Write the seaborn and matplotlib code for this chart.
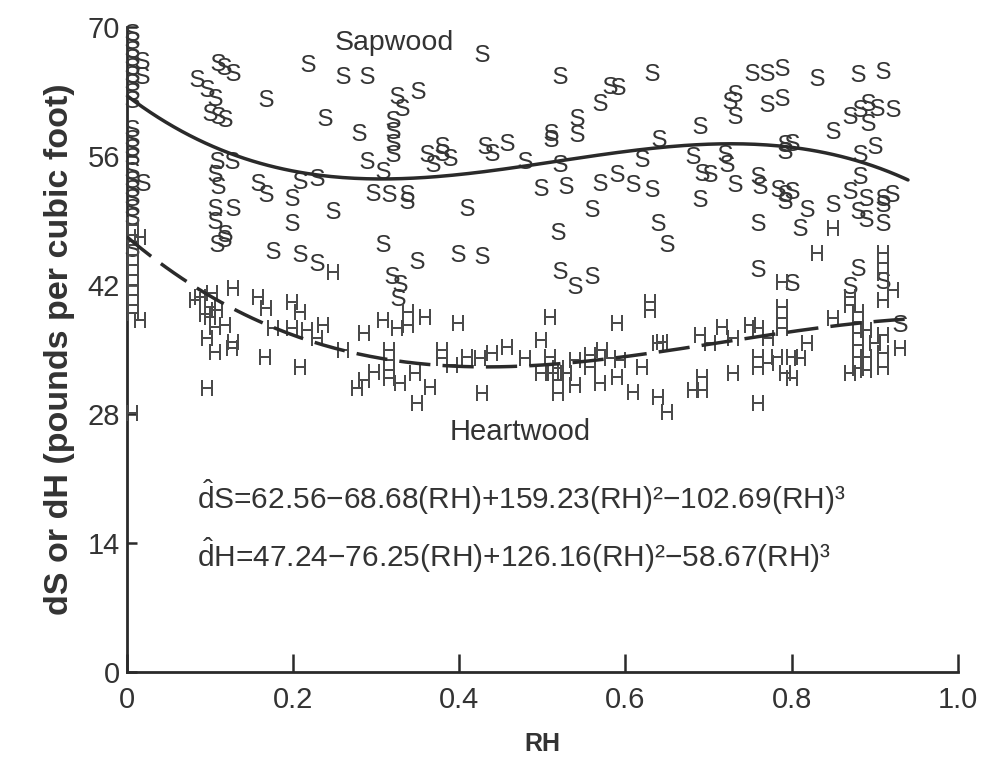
import numpy as np
import pandas as pd
import matplotlib
matplotlib.use("Agg")
import matplotlib.pyplot as plt
import seaborn as sns

# ---------------- data ----------------
# Sapwood observations (RH, dS)
sap_rh = [0.006]*20 + [0.018, 0.018, 0.019,
    0.110, 0.117, 0.128, 0.085, 0.097, 0.106, 0.100, 0.110, 0.118, 0.168, 0.218, 0.260, 0.289, 0.238, 0.279,
    0.325, 0.331, 0.320, 0.320, 0.320, 0.320, 0.350,
    0.289, 0.308, 0.296, 0.316, 0.337, 0.337, 0.308,
    0.108, 0.106, 0.110, 0.126, 0.106, 0.128, 0.106, 0.118, 0.108, 0.117,
    0.158, 0.168, 0.199, 0.199, 0.208, 0.229, 0.248, 0.176, 0.208, 0.229,
    0.349, 0.398, 0.428, 0.319, 0.329, 0.326,
    0.361, 0.368, 0.379, 0.379, 0.389, 0.431, 0.440, 0.458, 0.479,
    0.521, 0.499, 0.529, 0.428, 0.521, 0.581, 0.591, 0.632, 0.569,
    0.542, 0.542, 0.511, 0.511, 0.641, 0.569, 0.590, 0.609, 0.632, 0.620,
    0.409, 0.560, 0.639, 0.650, 0.519, 0.521, 0.539, 0.560,
    0.752, 0.770, 0.789, 0.830, 0.880, 0.910, 0.726, 0.732, 0.732, 0.770, 0.789,
    0.690, 0.850, 0.870, 0.882, 0.892, 0.903, 0.892, 0.922,
    0.792, 0.800, 0.792, 0.882, 0.900, 0.681, 0.720, 0.722,
    0.692, 0.702, 0.732, 0.759, 0.762, 0.783, 0.792, 0.800, 0.792,
    0.690, 0.882, 0.870, 0.890, 0.910, 0.921, 0.910,
    0.819, 0.850, 0.880, 0.890, 0.910, 0.759, 0.810,
    0.759, 0.800, 0.880, 0.870, 0.910, 0.930]
sap_d = [69.5, 68.6, 67.6, 66.7, 65.8, 64.9, 64.0, 63.1, 62.2, 59.0, 58.0, 57.0, 56.0,
    54.5, 53.5, 52.5, 51.5, 50.5, 49.5, 46.0,
    66.4, 64.8, 53.2,
    66.2, 65.8, 65.1, 64.5, 63.4, 62.4, 60.8, 60.5, 60.1, 62.3, 66.1, 64.8, 64.8, 60.2, 58.6,
    62.6, 61.3, 60.0, 58.8, 57.5, 56.3, 63.2,
    55.6, 54.5, 52.1, 52.0, 52.0, 51.2, 46.6,
    55.6, 54.2, 52.9, 55.6, 50.5, 50.5, 49.1, 47.7, 46.6, 47.1,
    53.2, 52.0, 51.6, 48.8, 53.4, 53.7, 50.1, 45.8, 45.5, 44.5,
    44.7, 45.5, 45.3, 43.1, 42.2, 40.7,
    56.3, 55.2, 57.2, 56.4, 55.9, 57.2, 56.4, 57.5, 55.6,
    55.2, 52.6, 52.9, 67.2, 64.8, 63.7, 63.6, 65.1, 61.9,
    60.2, 58.5, 58.6, 58.0, 58.0, 53.2, 54.2, 53.1, 52.5, 55.8,
    50.5, 50.4, 48.8, 46.6, 47.9, 43.6, 42.0, 43.1,
    65.1, 65.1, 65.7, 64.6, 65.0, 65.3, 62.1, 62.8, 60.5, 61.8, 62.4,
    59.4, 58.8, 60.5, 61.2, 61.9, 61.3, 59.7, 61.2,
    57.4, 57.5, 56.7, 56.3, 57.2, 56.1, 56.3, 55.2,
    54.3, 54.2, 53.1, 53.9, 52.9, 52.5, 52.0, 52.3, 51.2,
    51.4, 53.9, 52.3, 51.6, 51.6, 52.0, 50.9,
    50.4, 50.9, 50.1, 49.3, 48.8, 48.8, 48.3,
    43.8, 42.3, 44.0, 42.0, 42.5, 37.9]

# Heartwood observations (RH, dH)
heart_rh = [0.007]*10 + [0.016, 0.016, 0.006,
    0.088, 0.103, 0.128, 0.100, 0.108, 0.100, 0.106, 0.118, 0.096, 0.128, 0.106, 0.126, 0.096, 0.082, 0.094,
    0.158, 0.168, 0.166, 0.176, 0.199, 0.208, 0.199, 0.217, 0.229, 0.236, 0.208, 0.248,
    0.260, 0.286, 0.308, 0.325, 0.316, 0.316, 0.316, 0.316, 0.277, 0.286, 0.298, 0.329,
    0.338, 0.338, 0.359, 0.347, 0.349, 0.365,
    0.379, 0.379, 0.391, 0.398, 0.409, 0.425, 0.428, 0.439, 0.458, 0.479,
    0.509, 0.499, 0.509, 0.499, 0.513, 0.519, 0.519, 0.519, 0.529, 0.539, 0.539, 0.557, 0.557,
    0.572, 0.569, 0.590, 0.581, 0.593, 0.590, 0.609, 0.620, 0.629, 0.629, 0.639, 0.639, 0.650,
    0.644, 0.690, 0.702, 0.692, 0.681, 0.692, 0.716, 0.729, 0.729,
    0.750, 0.759, 0.771, 0.782, 0.759, 0.759, 0.771, 0.800, 0.810, 0.792, 0.801, 0.759,
    0.789, 0.789, 0.789, 0.819, 0.789, 0.830, 0.850,
    0.870, 0.870, 0.910, 0.910, 0.910, 0.922, 0.910, 0.850, 0.880, 0.880, 0.880, 0.880,
    0.880, 0.880, 0.890, 0.890, 0.890, 0.910, 0.900, 0.910, 0.910, 0.930, 0.870]
heart_d = [48.5, 47.4, 46.3, 45.3, 44.2, 43.1, 42.0, 40.9, 39.8, 39.0, 47.2, 38.2, 28.1,
    40.7, 41.1, 41.7, 39.6, 39.3, 38.5, 37.4, 37.7, 36.2, 35.8, 34.7, 35.2, 30.8, 40.4, 38.9,
    40.7, 39.5, 34.2, 37.3, 40.2, 39.1, 37.3, 37.1, 36.3, 37.7, 33.1, 43.4,
    35.0, 36.8, 38.2, 37.3, 34.9, 33.9, 32.8, 31.9, 30.8, 31.7, 32.6, 31.4,
    39.1, 37.7, 38.5, 32.5, 29.2, 30.9,
    34.9, 34.1, 33.3, 37.9, 34.2, 34.1, 30.3, 34.6, 35.3, 34.1,
    38.5, 36.0, 34.2, 32.5, 32.5, 33.0, 31.7, 30.3, 32.5, 33.9, 31.1, 34.4, 33.1,
    34.9, 31.4, 37.9, 34.1, 33.9, 32.0, 30.4, 33.1, 40.2, 39.3, 35.7, 29.8, 28.2,
    35.8, 36.6, 35.7, 32.0, 30.6, 30.6, 37.4, 36.3, 32.5,
    37.7, 37.3, 36.2, 34.2, 34.2, 33.1, 33.5, 34.2, 34.1, 32.5, 31.9, 29.2,
    39.6, 38.4, 37.3, 35.7, 42.3, 45.5, 48.2,
    40.7, 39.8, 45.5, 44.4, 43.3, 41.5, 40.4, 38.4, 39.1, 38.0, 36.8, 35.5,
    34.2, 33.0, 37.1, 34.2, 32.8, 36.6, 35.7, 34.6, 33.1, 35.2, 32.5]

# fitted cubic coefficients (from the equations printed on the chart)
coef_S = [62.56, -68.68, 159.23, -102.69]
coef_H = [47.24, -76.25, 126.16, -58.67]
fit_range = [0.0, 0.94]

x_ticks = [0, 0.2, 0.4, 0.6, 0.8, 1.0]
x_ticklabels = ["0", "0.2", "0.4", "0.6", "0.8", "1.0"]
y_ticks = [0, 14, 28, 42, 56, 70]

# ---------------- styling ----------------
sns.set_style("white")
plt.rcParams["font.family"] = ["Liberation Sans", "DejaVu Sans"]
plt.rcParams["mathtext.fontset"] = "custom"
plt.rcParams["mathtext.rm"] = "Liberation Sans"
plt.rcParams["mathtext.it"] = "Liberation Sans:italic"
plt.rcParams["mathtext.bf"] = "Liberation Sans:bold"
plt.rcParams["mathtext.sf"] = "DejaVu Sans:light"

ink = "#2a2a2a"
txt = "#333333"
fig = plt.figure(figsize=(9.83, 7.68), dpi=100)
ax = fig.add_axes([0.129, 0.125, 0.8454, 0.8398])

sap = pd.DataFrame({"RH": sap_rh, "d": sap_d})
hw = pd.DataFrame({"RH": heart_rh, "d": heart_d})

sns.scatterplot(data=sap, x="RH", y="d", marker=r"$\mathrm{S}$", s=150,
                color="#353535", linewidth=0, ax=ax, clip_on=False, zorder=3)
sns.scatterplot(data=hw, x="RH", y="d", marker=r"$\mathrm{H}$", s=118,
                color="#4a4a4a", linewidth=0, ax=ax, clip_on=False, zorder=3)

xs = np.linspace(fit_range[0], fit_range[1], 200)
yS = np.polyval(coef_S[::-1], xs)
yH = np.polyval(coef_H[::-1], xs)
sns.lineplot(x=xs, y=yS, color=ink, lw=2.5, ax=ax, zorder=4)
sns.lineplot(x=xs, y=yH, color=ink, lw=2.5, ax=ax, zorder=4, linestyle=(0, (9, 3.5)))

ax.set_xlim(0, 1.0)
ax.set_ylim(0, 70)
ax.set_xticks(x_ticks)
ax.set_xticklabels(x_ticklabels)
ax.set_yticks(y_ticks)

for side in ["top", "right"]:
    ax.spines[side].set_visible(False)
for side in ["left", "bottom"]:
    ax.spines[side].set_linewidth(2.0)
    ax.spines[side].set_color(ink)

ax.tick_params(axis="x", direction="in", length=13, width=1.8, color=ink,
               labelsize=21, labelcolor=txt, pad=10)
ax.tick_params(axis="y", direction="in", length=7, width=1.8, color=ink,
               labelsize=21, labelcolor=txt, pad=5)
ax.tick_params(left=True, bottom=True)

ax.set_xlabel("RH", fontsize=18, fontweight="bold", color=txt, labelpad=13)
ax.set_ylabel("dS or dH (pounds per cubic foot)", fontsize=24.5, fontweight="bold",
              color=txt, labelpad=9)

ax.text(0.322, 68.3, "Sapwood", fontsize=20.5, color=txt, ha="center", va="center")
ax.text(0.473, 26.0, "Heartwood", fontsize=21, color=txt, ha="center", va="center")

eqS = r"$\hat{\mathrm{d}}$S=62.56−68.68(RH)+159.23(RH)²−102.69(RH)³"
eqH = r"$\hat{\mathrm{d}}$H=47.24−76.25(RH)+126.16(RH)²−58.67(RH)³"
ax.text(0.084, 19.0, eqS, fontsize=21.5, color=txt, ha="left", va="center")
ax.text(0.084, 12.7, eqH, fontsize=21.5, color=txt, ha="left", va="center")

fig.savefig("out.png", dpi=100)
